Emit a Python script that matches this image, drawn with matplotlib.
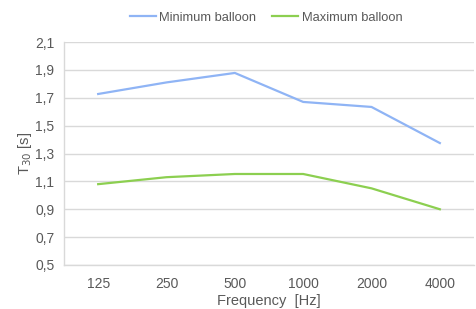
import matplotlib

matplotlib.use("Agg")
import matplotlib.pyplot as plt

plt.rcParams["font.family"] = ["Liberation Sans", "DejaVu Sans"]

frequencies = ["125", "250", "500", "1000", "2000", "4000"]
minimum_balloon = [1.727, 1.81, 1.878, 1.67, 1.634, 1.375]
maximum_balloon = [1.08, 1.13, 1.153, 1.153, 1.05, 0.9]
y_ticks = [0.5, 0.7, 0.9, 1.1, 1.3, 1.5, 1.7, 1.9, 2.1]

text_color = "#595959"
grid_color = "#d9d9d9"

fig = plt.figure(figsize=(4.77, 3.09), dpi=100)
ax = fig.add_axes([64 / 477, 1 - 265 / 309, 410 / 477, 223 / 309])

x = range(len(frequencies))
ax.plot(x, minimum_balloon, color="#8fb4f5", linewidth=1.6, label="Minimum balloon")
ax.plot(x, maximum_balloon, color="#8ccf50", linewidth=1.6, label="Maximum balloon")

ax.set_xlim(-0.5, len(frequencies) - 0.5)
ax.set_ylim(0.5, 2.1)
ax.set_xticks(list(x))
ax.set_xticklabels(frequencies)
ax.set_yticks(y_ticks)
ax.set_yticklabels([f"{v:.1f}".replace(".", ",") for v in y_ticks])
ax.tick_params(axis="both", length=0, labelsize=10, labelcolor=text_color)
ax.tick_params(axis="x", pad=9)
ax.tick_params(axis="y", pad=7)

ax.grid(True, axis="y", color=grid_color, linewidth=1)
ax.set_axisbelow(True)
for side in ["top", "right"]:
    ax.spines[side].set_visible(False)
for side in ["left", "bottom"]:
    ax.spines[side].set_color(grid_color)
    ax.spines[side].set_linewidth(1)

ax.set_xlabel("Frequency  [Hz]", fontsize=10.5, color=text_color, labelpad=2)
ax.set_ylabel("T$_{30}$ [s]", fontsize=10.5, color=text_color, labelpad=1)

fig.legend(loc="upper center", bbox_to_anchor=(266 / 477, 1.0), ncol=2, frameon=False,
           fontsize=9.3, labelcolor=text_color, handlelength=2.0, columnspacing=1.2,
           handletextpad=0.3)

fig.savefig("out.png", dpi=100)
